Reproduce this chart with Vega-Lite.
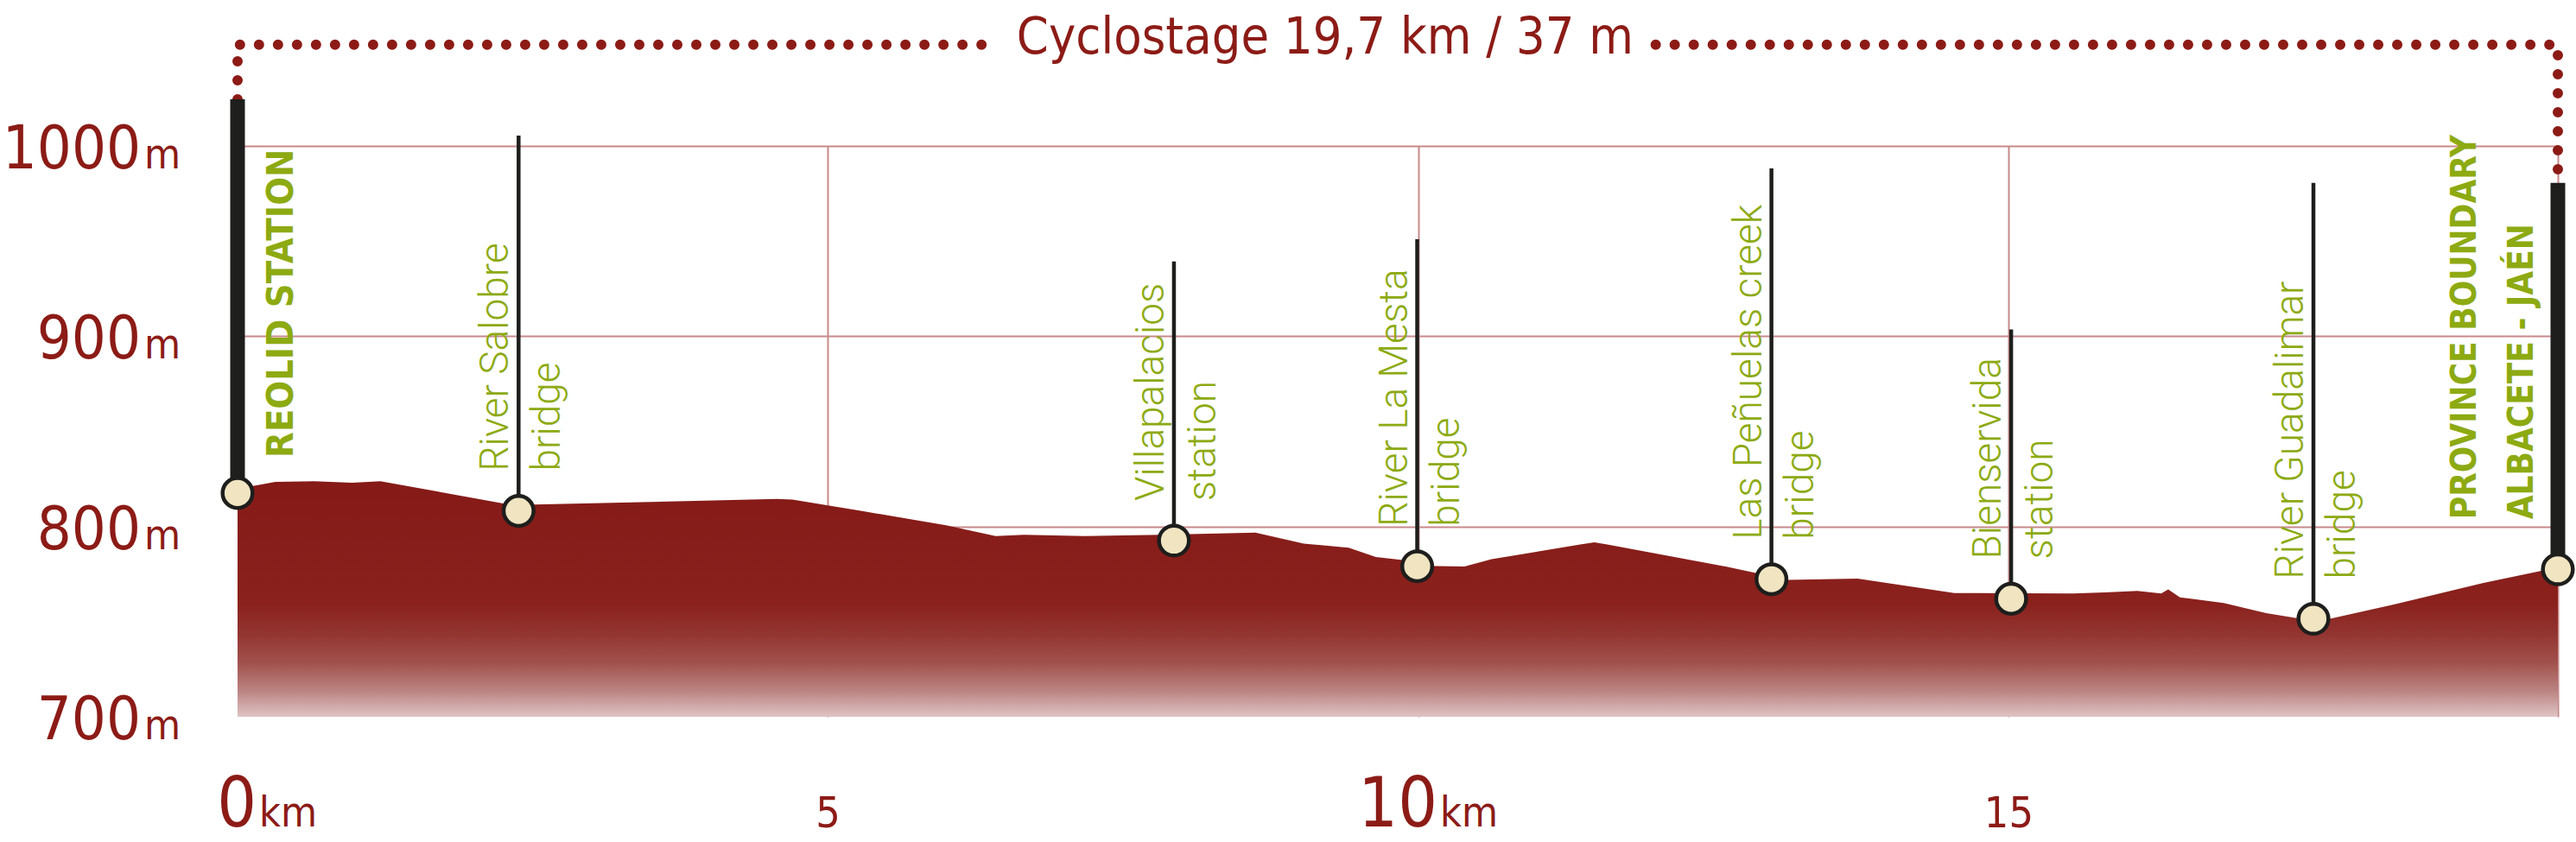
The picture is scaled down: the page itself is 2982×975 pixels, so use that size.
{
  "$schema": "https://vega.github.io/schema/vega-lite/v6.json",
  "width": 2686,
  "height": 661,
  "autosize": {"type": "none"},
  "padding": {"left": 275, "top": 169, "right": 21, "bottom": 145},
  "background": "white",
  "config": {"view": {"stroke": null}},
  "datasets": {
    "profile": [
      {"km": 0, "elev": 820}, {"km": 0.15, "elev": 821.5}, {"km": 0.32, "elev": 823.4}, {"km": 0.65, "elev": 823.8},
      {"km": 0.97, "elev": 823}, {"km": 1.21, "elev": 823.8}, {"km": 2.26, "elev": 812}, {"km": 2.51, "elev": 811.5},
      {"km": 4.57, "elev": 814.5}, {"km": 4.7, "elev": 814.2}, {"km": 5.3, "elev": 808}, {"km": 6.0, "elev": 800.6},
      {"km": 6.42, "elev": 795}, {"km": 6.66, "elev": 795.6}, {"km": 7.17, "elev": 795}, {"km": 7.82, "elev": 795.6},
      {"km": 8.62, "elev": 796.8}, {"km": 9.03, "elev": 791}, {"km": 9.41, "elev": 788.8}, {"km": 9.64, "elev": 784},
      {"km": 9.85, "elev": 782.5}, {"km": 10.05, "elev": 779.3}, {"km": 10.39, "elev": 779}, {"km": 10.62, "elev": 782.8},
      {"km": 11.37, "elev": 790.5}, {"km": 11.49, "elev": 791.7}, {"km": 11.6, "elev": 790.5}, {"km": 12.62, "elev": 778.7},
      {"km": 12.85, "elev": 775.7}, {"km": 13.12, "elev": 771.9}, {"km": 13.72, "elev": 772.6}, {"km": 14.54, "elev": 765},
      {"km": 15.54, "elev": 764.8}, {"km": 15.81, "elev": 765.4}, {"km": 16.09, "elev": 766.1}, {"km": 16.29, "elev": 764.8},
      {"km": 16.35, "elev": 766.9}, {"km": 16.45, "elev": 762.8}, {"km": 16.82, "elev": 759.8}, {"km": 17.18, "elev": 754.5},
      {"km": 17.45, "elev": 751.7}, {"km": 17.72, "elev": 751.5}, {"km": 18.26, "elev": 759}, {"km": 18.86, "elev": 768},
      {"km": 19.02, "elev": 770.4}, {"km": 19.51, "elev": 776.7}, {"km": 19.65, "elev": 777.2}
    ],
    "stops": [
      {"km": 2.38, "elev": 808.2, "top": 1005.4, "label": "River Salobre\nbridge"},
      {"km": 7.93, "elev": 792.6, "top": 939.3, "label": "Villapalacios\nstation"},
      {"km": 9.99, "elev": 779.1, "top": 951, "label": "River La Mesta\nbridge"},
      {"km": 12.99, "elev": 772.3, "top": 988.2, "label": "Las Peñuelas creek\nbridge"},
      {"km": 15.02, "elev": 762.0, "top": 903.5, "label": "Bienservida\nstation"},
      {"km": 17.58, "elev": 751.5, "top": 980.6, "label": "River Guadalimar\nbridge"}
    ],
    "ends": [
      {"km": 0, "elev": 817.6, "top": 1024.5, "label": "REOLID STATION"},
      {"km": 19.65, "elev": 777.5, "top": 980.6, "label": "PROVINCE BOUNDARY\nALBACETE - JAÉN"}
    ],
    "trail": [
      {"seg": "a", "ord": 1, "km": 0, "elev": 1024.5},
      {"seg": "a", "ord": 2, "km": 0, "elev": 1053.2},
      {"seg": "a", "ord": 3, "km": 6.31, "elev": 1053.2},
      {"seg": "b", "ord": 1, "km": 12.01, "elev": 1053.2},
      {"seg": "b", "ord": 2, "km": 19.65, "elev": 1053.2},
      {"seg": "b", "ord": 3, "km": 19.65, "elev": 985}
    ],
    "heading": [{"km": 9.21, "elev": 1048.7, "label": "Cyclostage 19,7 km / 37 m"}],
    "yticks": [{"elev": 700, "label": "700"}, {"elev": 800, "label": "800"}, {"elev": 900, "label": "900"}, {"elev": 1000, "label": "1000"}],
    "xmajor": [{"km": 0, "label": "0"}, {"km": 10, "label": "10"}],
    "xminor": [{"km": 5, "label": "5"}, {"km": 15, "label": "15"}]
  },
  "layer": [
    {
      "data": {"name": "profile"},
      "mark": {
        "type": "area",
        "color": {
          "gradient": "linear", "x1": 0, "y1": 0, "x2": 0, "y2": 1,
          "stops": [
            {"offset": 0, "color": "#851A17"},
            {"offset": 0.52, "color": "#8A211D"},
            {"offset": 0.645, "color": "#923430"},
            {"offset": 0.77, "color": "#A1514D"},
            {"offset": 0.89, "color": "#BA8482"},
            {"offset": 1, "color": "#DFC4C4"}
          ]
        }
      },
      "encoding": {
        "x": {
          "field": "km", "type": "quantitative",
          "scale": {"domain": [0, 19.65], "nice": false, "zero": false},
          "axis": {"values": [5, 10, 15, 19.65], "grid": true, "gridColor": "#C8898B", "gridWidth": 2, "labels": false, "ticks": false, "domain": false, "title": null}
        },
        "y": {
          "field": "elev", "type": "quantitative",
          "scale": {"domain": [700, 1000], "nice": false, "zero": false},
          "axis": {"values": [800, 900, 1000], "grid": true, "gridColor": "#C8898B", "gridWidth": 2, "labels": false, "ticks": false, "domain": false, "title": null}
        },
        "y2": {"datum": 700}
      }
    },
    {
      "data": {"name": "trail"},
      "mark": {"type": "line", "color": "#8C1B16", "strokeWidth": 12, "strokeCap": "round", "strokeDash": [0.01, 22]},
      "encoding": {
        "x": {"field": "km", "type": "quantitative", "scale": {"domain": [0, 19.65], "nice": false, "zero": false}},
        "y": {"field": "elev", "type": "quantitative", "scale": {"domain": [700, 1000], "nice": false, "zero": false}},
        "detail": {"field": "seg"},
        "order": {"field": "ord", "type": "quantitative"}
      }
    },
    {
      "data": {"name": "stops"},
      "mark": {"type": "rule", "color": "#1E1E1C", "strokeWidth": 4.5},
      "encoding": {
        "x": {"field": "km", "type": "quantitative", "scale": {"domain": [0, 19.65], "nice": false, "zero": false}},
        "y": {"field": "elev", "type": "quantitative", "scale": {"domain": [700, 1000], "nice": false, "zero": false}},
        "y2": {"field": "top"}
      }
    },
    {
      "data": {"name": "ends"},
      "mark": {"type": "rule", "color": "#1E1E1C", "strokeWidth": 17, "strokeCap": "butt"},
      "encoding": {
        "x": {"field": "km", "type": "quantitative", "scale": {"domain": [0, 19.65], "nice": false, "zero": false}},
        "y": {"field": "elev", "type": "quantitative", "scale": {"domain": [700, 1000], "nice": false, "zero": false}},
        "y2": {"field": "top"}
      }
    },
    {
      "data": {"name": "stops"},
      "mark": {"type": "point", "shape": "circle", "filled": true, "fill": "#F0E4C1", "stroke": "#1E1E1C", "strokeWidth": 4.5, "size": 1200, "opacity": 1},
      "encoding": {
        "x": {"field": "km", "type": "quantitative", "scale": {"domain": [0, 19.65], "nice": false, "zero": false}},
        "y": {"field": "elev", "type": "quantitative", "scale": {"domain": [700, 1000], "nice": false, "zero": false}}
      }
    },
    {
      "data": {"name": "ends"},
      "mark": {"type": "point", "shape": "circle", "filled": true, "fill": "#F0E4C1", "stroke": "#1E1E1C", "strokeWidth": 4.5, "size": 1200, "opacity": 1},
      "encoding": {
        "x": {"field": "km", "type": "quantitative", "scale": {"domain": [0, 19.65], "nice": false, "zero": false}},
        "y": {"field": "elev", "type": "quantitative", "scale": {"domain": [700, 1000], "nice": false, "zero": false}}
      }
    },
    {
      "data": {"name": "stops"},
      "mark": {"type": "text", "angle": 270, "align": "left", "baseline": "alphabetic", "dx": 46, "dy": -12, "font": "Roboto, sans-serif", "fontWeight": 300, "fontSize": 46, "lineBreak": "\n", "lineHeight": 60, "color": "#8DAA12"},
      "encoding": {
        "x": {"field": "km", "type": "quantitative", "scale": {"domain": [0, 19.65], "nice": false, "zero": false}},
        "y": {"field": "elev", "type": "quantitative", "scale": {"domain": [700, 1000], "nice": false, "zero": false}},
        "text": {"field": "label"}
      }
    },
    {
      "data": {"name": "ends"},
      "transform": [{"filter": "datum.km == 0"}],
      "mark": {"type": "text", "angle": 270, "align": "left", "baseline": "alphabetic", "dx": 41, "dy": 64, "font": "DejaVu Sans Condensed, sans-serif", "fontWeight": "bold", "fontSize": 43, "color": "#8DAA12"},
      "encoding": {
        "x": {"field": "km", "type": "quantitative", "scale": {"domain": [0, 19.65], "nice": false, "zero": false}},
        "y": {"field": "elev", "type": "quantitative", "scale": {"domain": [700, 1000], "nice": false, "zero": false}},
        "text": {"field": "label"}
      }
    },
    {
      "data": {"name": "ends"},
      "transform": [{"filter": "datum.km > 0"}],
      "mark": {"type": "text", "angle": 270, "align": "left", "baseline": "alphabetic", "dx": 58, "dy": -95, "font": "DejaVu Sans Condensed, sans-serif", "fontWeight": "bold", "fontSize": 40, "lineBreak": "\n", "lineHeight": 66, "color": "#8DAA12"},
      "encoding": {
        "x": {"field": "km", "type": "quantitative", "scale": {"domain": [0, 19.65], "nice": false, "zero": false}},
        "y": {"field": "elev", "type": "quantitative", "scale": {"domain": [700, 1000], "nice": false, "zero": false}},
        "text": {"field": "label"}
      }
    },
    {
      "data": {"name": "heading"},
      "mark": {"type": "text", "align": "center", "baseline": "alphabetic", "font": "DejaVu Sans Condensed, sans-serif", "fontSize": 59, "color": "#8C1B16"},
      "encoding": {
        "x": {"field": "km", "type": "quantitative", "scale": {"domain": [0, 19.65], "nice": false, "zero": false}},
        "y": {"field": "elev", "type": "quantitative", "scale": {"domain": [700, 1000], "nice": false, "zero": false}},
        "text": {"field": "label"}
      }
    },
    {
      "data": {"name": "xmajor"},
      "mark": {"type": "text", "align": "right", "baseline": "alphabetic", "dx": 22, "dy": 127, "font": "DejaVu Sans Condensed, sans-serif", "fontSize": 80, "color": "#8C1B16"},
      "encoding": {
        "x": {"field": "km", "type": "quantitative", "scale": {"domain": [0, 19.65], "nice": false, "zero": false}},
        "y": {"datum": 700, "type": "quantitative", "scale": {"domain": [700, 1000], "nice": false, "zero": false}},
        "text": {"field": "label"}
      }
    },
    {
      "data": {"name": "xmajor"},
      "mark": {"type": "text", "text": "km", "align": "left", "baseline": "alphabetic", "dx": 25, "dy": 127, "font": "DejaVu Sans Condensed, sans-serif", "fontSize": 48, "color": "#8C1B16"},
      "encoding": {
        "x": {"field": "km", "type": "quantitative", "scale": {"domain": [0, 19.65], "nice": false, "zero": false}},
        "y": {"datum": 700, "type": "quantitative", "scale": {"domain": [700, 1000], "nice": false, "zero": false}}
      }
    },
    {
      "data": {"name": "xminor"},
      "mark": {"type": "text", "align": "center", "baseline": "alphabetic", "dy": 128, "font": "DejaVu Sans Condensed, sans-serif", "fontSize": 50, "color": "#8C1B16"},
      "encoding": {
        "x": {"field": "km", "type": "quantitative", "scale": {"domain": [0, 19.65], "nice": false, "zero": false}},
        "y": {"datum": 700, "type": "quantitative", "scale": {"domain": [700, 1000], "nice": false, "zero": false}},
        "text": {"field": "label"}
      }
    },
    {
      "data": {"name": "yticks"},
      "mark": {"type": "text", "align": "right", "baseline": "alphabetic", "dx": -112, "dy": 26, "font": "DejaVu Sans Condensed, sans-serif", "fontSize": 70, "color": "#8C1B16"},
      "encoding": {
        "x": {"datum": 0, "type": "quantitative", "scale": {"domain": [0, 19.65], "nice": false, "zero": false}},
        "y": {"field": "elev", "type": "quantitative", "scale": {"domain": [700, 1000], "nice": false, "zero": false}},
        "text": {"field": "label"}
      }
    },
    {
      "data": {"name": "yticks"},
      "mark": {"type": "text", "text": "m", "align": "left", "baseline": "alphabetic", "dx": -108, "dy": 26, "font": "DejaVu Sans Condensed, sans-serif", "fontSize": 48, "color": "#8C1B16"},
      "encoding": {
        "x": {"datum": 0, "type": "quantitative", "scale": {"domain": [0, 19.65], "nice": false, "zero": false}},
        "y": {"field": "elev", "type": "quantitative", "scale": {"domain": [700, 1000], "nice": false, "zero": false}}
      }
    }
  ]
}
